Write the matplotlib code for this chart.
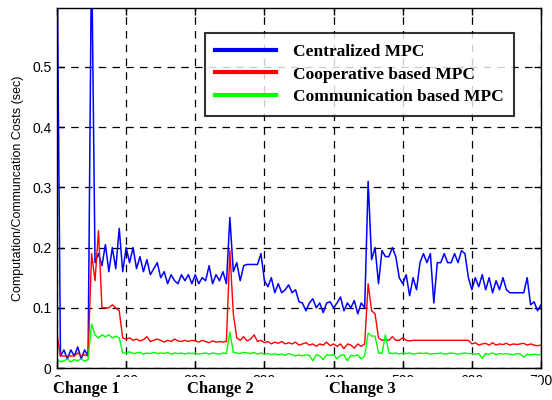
import numpy as np
import matplotlib
matplotlib.use('Agg')
import matplotlib.pyplot as plt
from matplotlib.patches import Rectangle
from matplotlib.transforms import blended_transform_factory

# sample instants (every 5 steps)
t = list(range(0, 705, 5))

centralized = [
    0.70, 0.02, 0.03, 0.015, 0.03, 0.02, 0.035, 0.015, 0.03, 0.02,
    0.70, 0.175, 0.19, 0.17, 0.205, 0.16, 0.20, 0.165, 0.232, 0.16,
    0.20, 0.175, 0.20, 0.165, 0.185, 0.16, 0.18, 0.155, 0.165, 0.175,
    0.15, 0.16, 0.14, 0.155, 0.145, 0.14, 0.155, 0.145, 0.155, 0.14,
    0.155, 0.14, 0.15, 0.145, 0.17, 0.14, 0.155, 0.145, 0.16, 0.14,
    0.25, 0.16, 0.175, 0.145, 0.17, 0.172, 0.172, 0.172, 0.172, 0.19,
    0.145, 0.135, 0.15, 0.125, 0.14, 0.125, 0.13, 0.138, 0.125, 0.13,
    0.11, 0.108, 0.095, 0.108, 0.115, 0.10, 0.108, 0.092, 0.108, 0.11,
    0.10, 0.108, 0.118, 0.095, 0.108, 0.10, 0.112, 0.09, 0.108, 0.10,
    0.31, 0.18, 0.20, 0.14, 0.195, 0.185, 0.185, 0.20, 0.185, 0.15,
    0.14, 0.155, 0.12, 0.15, 0.13, 0.175, 0.19, 0.175, 0.19, 0.108,
    0.175, 0.175, 0.19, 0.175, 0.175, 0.19, 0.175, 0.195, 0.19, 0.15,
    0.13, 0.15, 0.135, 0.155, 0.13, 0.15, 0.125, 0.145, 0.13, 0.15,
    0.13, 0.125, 0.125, 0.125, 0.125, 0.125, 0.15, 0.105, 0.11, 0.095,
    0.105]

cooperative = [
    0.055, 0.02, 0.02, 0.02, 0.02, 0.02, 0.025, 0.02, 0.022, 0.02,
    0.19, 0.145, 0.228, 0.10, 0.10, 0.10, 0.105, 0.10, 0.095, 0.05,
    0.048, 0.05, 0.046, 0.048, 0.045, 0.047, 0.052, 0.044, 0.046, 0.048,
    0.046, 0.043, 0.046, 0.044, 0.048, 0.045, 0.044, 0.046, 0.044, 0.046,
    0.045, 0.043, 0.046, 0.044, 0.042, 0.045, 0.043, 0.044, 0.043, 0.044,
    0.195, 0.09, 0.05, 0.046, 0.052, 0.045, 0.048, 0.055, 0.044, 0.046,
    0.042, 0.044, 0.04, 0.043, 0.041, 0.044, 0.04, 0.042, 0.04, 0.043,
    0.038, 0.04, 0.042, 0.038, 0.04, 0.036, 0.04, 0.038, 0.043, 0.037,
    0.04, 0.036, 0.04, 0.032, 0.04, 0.038, 0.033, 0.04, 0.036, 0.04,
    0.14, 0.095, 0.09, 0.05, 0.046, 0.047, 0.046, 0.052, 0.046, 0.046,
    0.05, 0.046, 0.045, 0.046, 0.046, 0.046, 0.046, 0.046, 0.046, 0.046,
    0.046, 0.046, 0.046, 0.046, 0.046, 0.046, 0.046, 0.046, 0.046, 0.046,
    0.04, 0.042, 0.038, 0.04, 0.041, 0.038, 0.042, 0.038, 0.04, 0.039,
    0.041, 0.038, 0.04, 0.039, 0.04, 0.041, 0.038, 0.04, 0.038, 0.037,
    0.038]

communication = [
    0.015, 0.01, 0.012, 0.015, 0.01, 0.014, 0.012, 0.015, 0.011, 0.014,
    0.073, 0.055, 0.05, 0.055, 0.052, 0.055, 0.05, 0.053, 0.05, 0.025,
    0.025, 0.027, 0.024, 0.025, 0.026, 0.023, 0.025, 0.024, 0.026, 0.024,
    0.025, 0.024, 0.026, 0.023, 0.025, 0.024, 0.025, 0.023, 0.025, 0.024,
    0.025, 0.023, 0.024, 0.025, 0.023, 0.025, 0.024, 0.023, 0.025, 0.024,
    0.06, 0.026, 0.025, 0.024, 0.026, 0.025, 0.024, 0.026, 0.023, 0.025,
    0.023, 0.024, 0.022, 0.024, 0.022, 0.023, 0.021, 0.024, 0.022, 0.02,
    0.022, 0.02, 0.022, 0.021, 0.012, 0.022, 0.02, 0.014, 0.022, 0.021,
    0.022, 0.015, 0.021, 0.022, 0.012, 0.021, 0.02, 0.022, 0.015, 0.02,
    0.058, 0.053, 0.053, 0.025, 0.024, 0.055, 0.025, 0.024, 0.025, 0.023,
    0.025, 0.024, 0.025, 0.023, 0.024, 0.025, 0.024, 0.025, 0.023, 0.024,
    0.024, 0.025, 0.023, 0.024, 0.025, 0.024, 0.023, 0.024, 0.025, 0.024,
    0.024, 0.023, 0.024, 0.016, 0.024, 0.023, 0.025, 0.022, 0.024, 0.023,
    0.024, 0.023, 0.022, 0.024, 0.023, 0.018, 0.023, 0.022, 0.023, 0.022,
    0.022]

series_names = ['Centralized MPC', 'Cooperative based MPC', 'Communication based MPC']
change_pos = [43, 237, 442]
change_labels = ['Change 1', 'Change 2', 'Change 3']
xticks = [0, 100, 200, 300, 400, 500, 600, 700]
yticks = [0, 0.1, 0.2, 0.3, 0.4, 0.5]

sans = 'Liberation Sans'
serif = 'Liberation Serif'

fig = plt.figure(figsize=(5.52, 4.0), dpi=100)
ax = fig.add_axes([57/552, 32/400, 484/552, 360/400])

ax.plot(t, centralized, color='#0000ff', lw=1.1, label=series_names[0])
ax.plot(t, cooperative, color='#ff0000', lw=1.0, label=series_names[1])
ax.plot(t, communication, color='#00ff00', lw=1.0, label=series_names[2])

ax.set_xlim(0, 700)
ax.set_ylim(0, 0.598)
ax.set_xticks(xticks)
ax.set_yticks(yticks)
ax.set_yticklabels(['0', '0.1', '0.2', '0.3', '0.4', '0.5'])
ax.tick_params(direction='in', top=True, right=True, length=5, width=1,
               labelsize=10, pad=4)
for lab in ax.get_xticklabels() + ax.get_yticklabels():
    lab.set_family(sans)
ax.grid(True, color='black', linestyle=(0, (6, 5)), lw=0.9)
for sp in ax.spines.values():
    sp.set_linewidth(1.0)

ax.set_ylabel('Computation/Communcation Costs (sec)', family=sans, fontsize=9,
              labelpad=6)

leg = ax.legend(loc='upper left', bbox_to_anchor=(0.305, 0.93),
                prop={'family': serif, 'weight': 'bold', 'size': 12.5},
                frameon=True, fancybox=False, handlelength=3.5,
                borderpad=0.6, labelspacing=0.38, handletextpad=1.0,
                borderaxespad=0)
leg.get_frame().set_edgecolor('black')
leg.get_frame().set_linewidth(1.5)
for ln in leg.get_lines():
    ln.set_linewidth(3)

# white strip that hides most of the x tick labels
fig.add_artist(Rectangle((0, 0), 541/552, 23/400, transform=fig.transFigure,
                         facecolor='white', edgecolor='none', zorder=5))

trans = blended_transform_factory(ax.transData, fig.transFigure)
for pos, lab in zip(change_pos, change_labels):
    fig.text(pos, 11/400, lab, transform=trans, ha='center', va='center',
             family=serif, weight='bold', fontsize=12, zorder=6)

fig.savefig('out.png', dpi=100)
